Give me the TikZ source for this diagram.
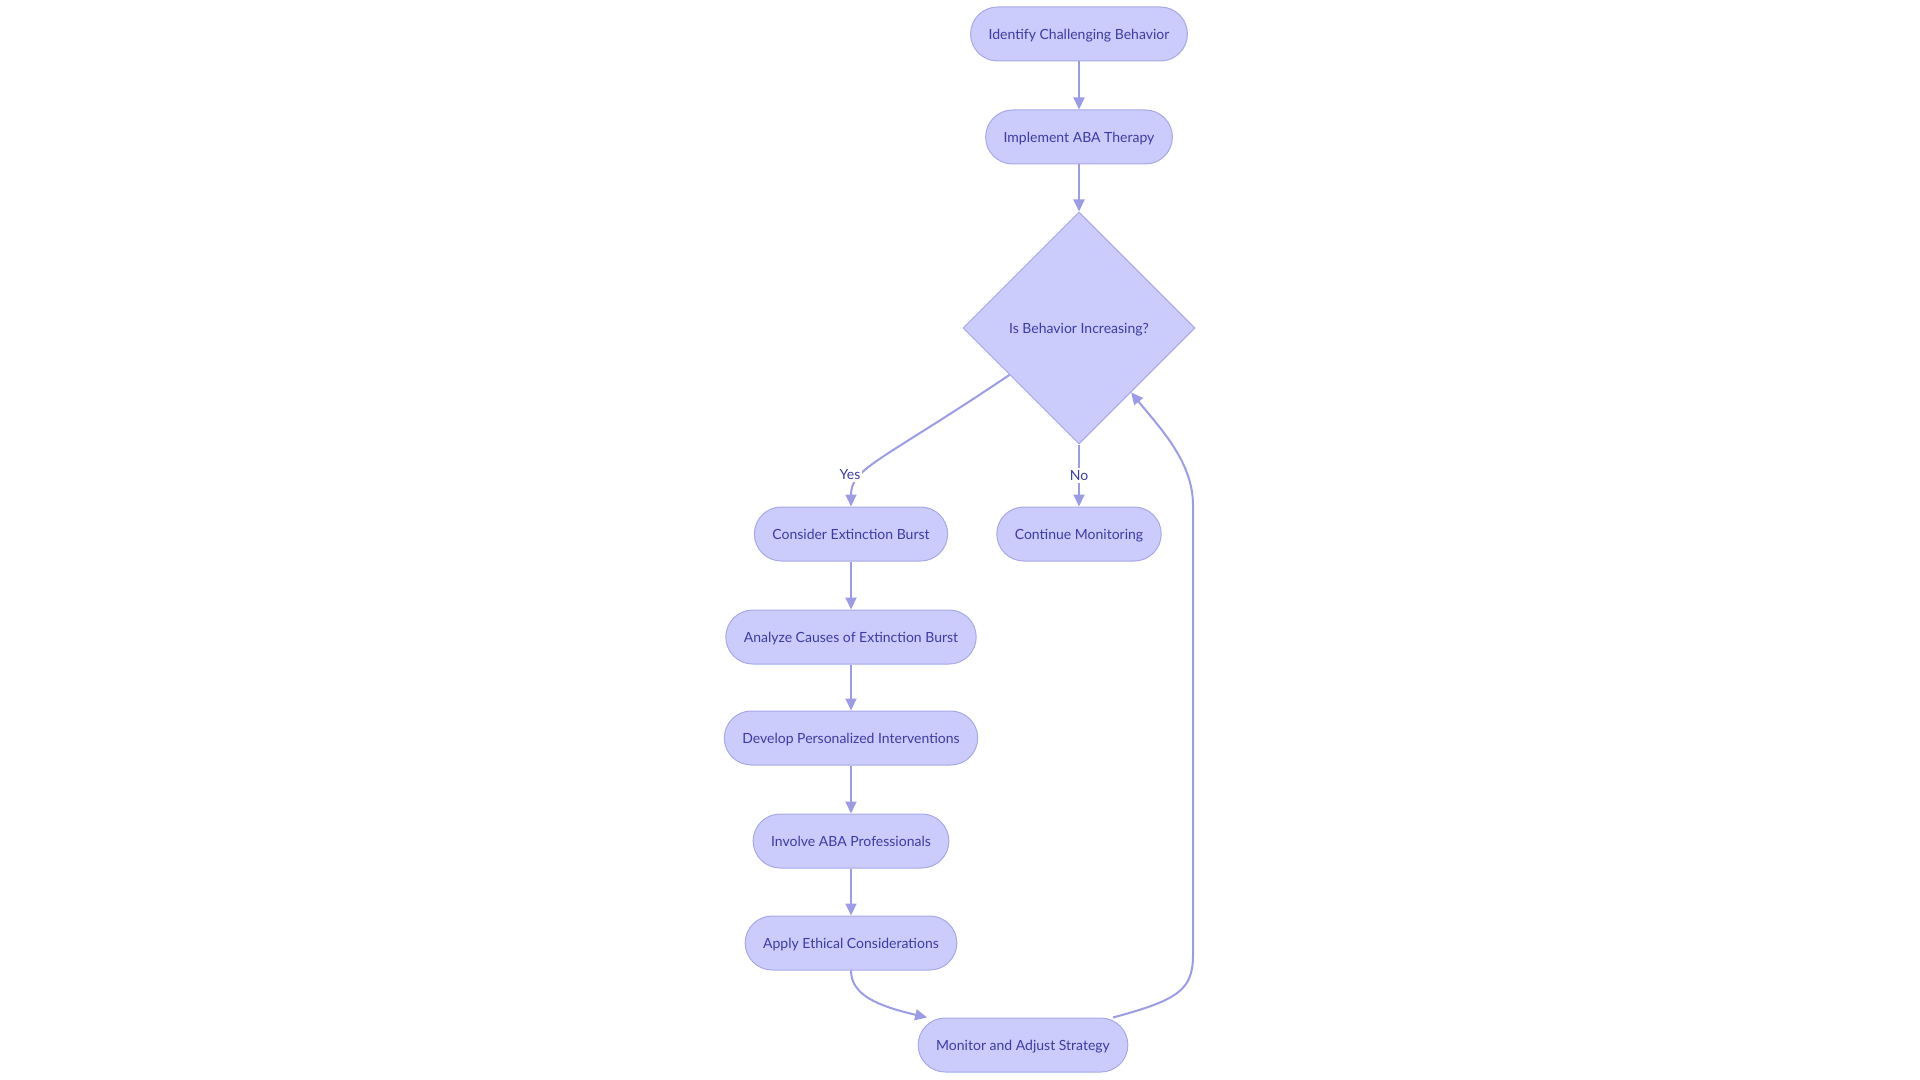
\documentclass[tikz,border=0pt]{standalone}
\usepackage{fontspec}
\setmainfont{Lato}
\usetikzlibrary{shapes.geometric,arrows.meta}

\definecolor{boxfill}{HTML}{CBCBFC}
\definecolor{boxline}{HTML}{A8A8EA}
\definecolor{edgeline}{HTML}{9C9CE6}
\definecolor{boxtext}{HTML}{3C3CA6}

\begin{document}
\begin{tikzpicture}[x=0.5pt,y=-0.5pt,
    font=\fontsize{7}{8.4}\selectfont,
    stepbox/.style={draw=boxline, line width=0.5pt, fill=boxfill, text=boxtext,
        rounded corners=13.5pt, minimum height=27pt, inner xsep=9pt,
        text height=7pt, text depth=1.4pt},
    choice/.style={diamond, draw=boxline, line width=0.5pt, fill=boxfill, text=boxtext,
        minimum width=116pt, minimum height=116pt, inner sep=0pt,
        text height=7pt, text depth=1.4pt},
    edge/.style={draw=edgeline, line width=1pt, -{Triangle[length=6pt,width=5.5pt]}},
    tag/.style={fill=white, text=boxtext, inner sep=1pt}]

    \useasboundingbox (0,0) rectangle (1920,1080);

    %% Main line

    % Start
    \node[stepbox] (identify) at (1079,34) {Identify Challenging Behavior};
    \node[stepbox] (implement) at (1079,137) {Implement ABA Therapy};

    % Decision
    \node[choice] (check) at (1079,328) {Is Behavior Increasing?};

    % Branches
    \node[stepbox] (burst) at (851,534) {Consider Extinction Burst};
    \node[stepbox] (keep) at (1079,534) {Continue Monitoring};

    % Yes branch, step by step
    \node[stepbox] (causes) at (851,637) {Analyze Causes of Extinction Burst};
    \node[stepbox] (plans) at (851,738) {Develop Personalized Interventions};
    \node[stepbox] (experts) at (851,841) {Involve ABA Professionals};
    \node[stepbox] (ethics) at (851,943) {Apply Ethical Considerations};
    \node[stepbox] (adjust) at (1023,1045) {Monitor and Adjust Strategy};

    %% Connectors

    % Straight ones
    \draw[edge] (identify) -- (implement);
    \draw[edge] (implement) -- (check);
    \draw[edge] (check.south) -- (keep.north) node[midway,tag] {No};
    \draw[edge] (burst) -- (causes);
    \draw[edge] (causes) -- (plans);
    \draw[edge] (plans) -- (experts);
    \draw[edge] (experts) -- (ethics);

    % Yes branch
    \draw[edge] (check.214) .. controls (880,462) and (851,468) .. (burst.north);
    \node[tag] (yes) at (850,475) {Yes};

    % Into the last step
    \draw[edge] (ethics.south) .. controls (851,995) and (878,1006) .. (adjust.164);

    % Back to the decision
    \draw[edge] (adjust.17) .. controls (1178,1000) and (1193,990) .. (1193,955)
        -- (1193,505) .. controls (1193,462) and (1160,428) .. (check.-51);

\end{tikzpicture}
\end{document}
